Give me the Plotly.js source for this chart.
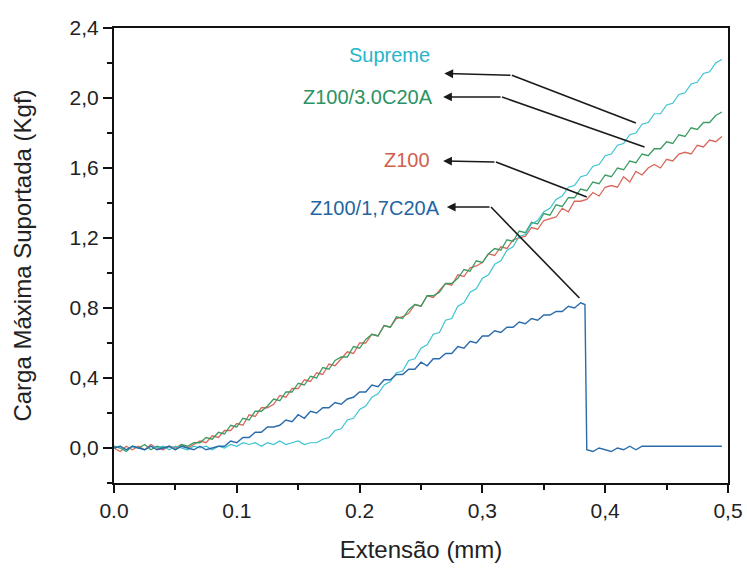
<!DOCTYPE html>
<html>
<head>
<meta charset="utf-8">
<script src="https://cdn.plot.ly/plotly-3.0.1.min.js"></script>
<style>html,body{margin:0;padding:0;background:#fff;}#chart{width:747px;height:568px;}</style>
</head>
<body>
<div id="chart"></div>
<script>
// ---- data ----
var extensao = [0,0.005,0.01,0.015,0.02,0.025,0.03,0.035,0.04,0.045,0.05,0.055,0.06,0.065,0.07,0.075,0.08,0.085,0.09,0.095,
0.1,0.105,0.11,0.115,0.12,0.125,0.13,0.135,0.14,0.145,0.15,0.155,0.16,0.165,0.17,0.175,0.18,0.185,0.19,0.195,
0.2,0.205,0.21,0.215,0.22,0.225,0.23,0.235,0.24,0.245,0.25,0.255,0.26,0.265,0.27,0.275,0.28,0.285,0.29,0.295,
0.3,0.305,0.31,0.315,0.32,0.325,0.33,0.335,0.34,0.345,0.35,0.355,0.36,0.365,0.37,0.375,0.38,0.385,0.39,0.395,
0.4,0.405,0.41,0.415,0.42,0.425,0.43,0.435,0.44,0.445,0.45,0.455,0.46,0.465,0.47,0.475,0.48,0.485,0.49,0.495];

var cargaZ100 = [0.00,-0.02,0.01,-0.01,0.01,-0.01,0.02,0.00,-0.01,0.01,0.00,0.02,0.00,
0.02,0.04,0.03,0.07,0.06,0.10,0.10,0.14,0.13,0.19,0.18,0.23,0.23,0.25,0.30,0.29,0.34,
0.34,0.39,0.38,0.43,0.42,0.48,0.47,0.51,0.55,0.54,0.60,0.60,0.65,0.64,0.70,0.69,0.74,
0.75,0.77,0.82,0.81,0.87,0.86,0.90,0.94,0.93,0.99,0.98,1.03,1.04,1.06,1.11,1.10,1.15,
1.14,1.19,1.20,1.21,1.26,1.25,1.30,1.31,1.32,1.37,1.35,1.41,1.41,1.42,1.46,1.44,1.49,
1.50,1.49,1.55,1.52,1.58,1.56,1.60,1.62,1.60,1.65,1.64,1.68,1.69,1.68,1.73,1.72,1.76,1.75,1.78];

var cargaZ100_30 = [0.01,0.00,-0.02,0.01,0.00,0.02,-0.01,0.01,0.00,0.01,-0.01,0.02,0.01,
0.03,0.03,0.06,0.05,0.09,0.08,0.13,0.12,0.17,0.16,0.21,0.21,0.24,0.28,0.27,0.32,0.32,
0.37,0.36,0.41,0.40,0.46,0.45,0.50,0.52,0.52,0.58,0.57,0.62,0.65,0.64,0.70,0.69,0.75,
0.74,0.79,0.82,0.81,0.87,0.87,0.89,0.94,0.94,0.97,1.02,1.01,1.07,1.06,1.11,1.14,1.13,
1.19,1.18,1.24,1.23,1.29,1.28,1.34,1.33,1.39,1.38,1.43,1.43,1.48,1.47,1.52,1.51,1.56,
1.55,1.60,1.59,1.64,1.63,1.68,1.67,1.71,1.71,1.75,1.74,1.79,1.78,1.83,1.82,1.86,1.86,1.90,1.92];

var cargaSupreme = [0.00,0.01,-0.01,0.01,0.00,-0.01,0.01,0.00,0.01,-0.01,0.01,0.00,-0.01,0.01,0.00,0.01,-0.01,0.01,0.00,0.02,
0.01,0.03,0.02,0.03,0.01,0.03,0.02,0.04,0.02,0.03,0.04,0.02,0.03,0.03,0.05,0.06,0.10,0.11,0.16,0.17,
0.22,0.24,0.29,0.31,0.36,0.38,0.43,0.44,0.50,0.51,0.57,0.59,0.65,0.66,0.73,0.74,0.81,0.83,0.89,0.91,
0.97,0.99,1.05,1.07,1.13,1.15,1.21,1.22,1.28,1.30,1.35,1.37,1.42,1.44,1.49,1.50,1.55,1.56,1.61,1.62,
1.67,1.68,1.73,1.74,1.79,1.80,1.85,1.86,1.91,1.91,1.96,1.97,2.02,2.03,2.08,2.09,2.14,2.15,2.20,2.22];

var extensaoZ100_17 = [0,0.005,0.01,0.015,0.02,0.025,0.03,0.035,0.04,0.045,0.05,0.055,0.06,0.065,0.07,0.075,0.08,0.085,0.09,0.095,
0.1,0.105,0.11,0.115,0.12,0.125,0.13,0.135,0.14,0.145,0.15,0.155,0.16,0.165,0.17,0.175,0.18,0.185,0.19,0.195,
0.2,0.205,0.21,0.215,0.22,0.225,0.23,0.235,0.24,0.245,0.25,0.255,0.26,0.265,0.27,0.275,0.28,0.285,0.29,0.295,
0.3,0.305,0.31,0.315,0.32,0.325,0.33,0.335,0.34,0.345,0.35,0.355,0.36,0.365,0.37,0.375,0.38,0.3835,0.385,
0.39,0.395,0.4,0.405,0.41,0.415,0.42,0.425,0.43,0.495];

var cargaZ100_17 = [0.00,0.01,-0.01,0.01,0.00,-0.01,0.01,-0.01,0.00,0.01,-0.01,0.01,0.00,-0.01,0.01,-0.01,0.00,0.01,
0.01,0.04,0.03,0.06,0.06,0.09,0.09,0.12,0.12,0.13,0.16,0.15,0.19,0.17,0.21,0.20,0.23,0.23,0.26,0.25,0.28,0.29,
0.32,0.32,0.36,0.35,0.39,0.39,0.42,0.42,0.45,0.45,0.49,0.47,0.51,0.51,0.54,0.54,0.58,0.57,0.61,0.60,
0.64,0.64,0.67,0.66,0.69,0.69,0.72,0.71,0.74,0.73,0.76,0.76,0.78,0.78,0.81,0.80,0.83,0.82,-0.01,
-0.02,0.00,-0.01,-0.02,0.00,-0.01,0.01,-0.01,0.01,0.01];

var seriesNames = ['Supreme', 'Z100/3.0C20A', 'Z100', 'Z100/1,7C20A'];

var xTickVals = [0, 0.1, 0.2, 0.3, 0.4, 0.5];
var xTickText = ['0.0', '0.1', '0.2', '0,3', '0,4', '0,5'];
var xMinorVals = [0.05, 0.15, 0.25, 0.35, 0.45];
var yTickVals = [0, 0.4, 0.8, 1.2, 1.6, 2.0, 2.4];
var yTickText = ['0,0', '0,4', '0,8', '1,2', '1,6', '2,0', '2,4'];
var yMinorVals = [-0.2, 0.2, 0.6, 1.0, 1.4, 1.8, 2.2];

// ---- styles ----
var colCyan = '#3cc3d2', colGreen = '#3a9c62', colRed = '#d9675c', colBlue = '#2a6cab';
var lblCyan = '#27b5c8', lblGreen = '#2a9263', lblRed = '#d0604e', lblBlue = '#1f66a3';
var FONT = '"Liberation Sans", Arial, Helvetica, sans-serif';

var traces = [
  {x: extensao, y: cargaZ100, name: seriesNames[2], mode: 'lines', line: {color: colRed, width: 1.3}},
  {x: extensao, y: cargaZ100_30, name: seriesNames[1], mode: 'lines', line: {color: colGreen, width: 1.3}},
  {x: extensao, y: cargaSupreme, name: seriesNames[0], mode: 'lines', line: {color: colCyan, width: 1.2}},
  {x: extensaoZ100_17, y: cargaZ100_17, name: seriesNames[3], mode: 'lines', line: {color: colBlue, width: 1.4}}
];

// label / leader-line layout (positions in data coordinates)
var labels = [
  {text: seriesNames[0], color: lblCyan, tx: 0.2593, ty: 2.245, head: [0.269, 2.14], bend: [0.324, 2.13], end: [0.425, 1.857]},
  {text: seriesNames[1], color: lblGreen, tx: 0.2610, ty: 2.006, head: [0.268, 2.006], bend: [0.316, 2.006], end: [0.432, 1.72]},
  {text: seriesNames[2], color: lblRed, tx: 0.2593, ty: 1.646, head: [0.268, 1.64], bend: [0.311, 1.634], end: [0.385, 1.434]},
  {text: seriesNames[3], color: lblBlue, tx: 0.2667, ty: 1.371, head: [0.271, 1.377], bend: [0.307, 1.377], end: [0.379, 0.857]}
];

var annotations = [], shapes = [];
labels.forEach(function (l) {
  annotations.push({x: l.tx, y: l.ty, xref: 'x', yref: 'y', text: l.text, showarrow: false,
    xanchor: 'right', yanchor: 'middle', font: {family: FONT, size: 20, color: l.color}});
  annotations.push({x: l.head[0], y: l.head[1], ax: l.bend[0], ay: l.bend[1], xref: 'x', yref: 'y',
    axref: 'x', ayref: 'y', text: '', showarrow: true, arrowhead: 2, arrowsize: 1.1, arrowwidth: 1.6,
    arrowcolor: '#1a1a1a', standoff: 0, startstandoff: 0});
  shapes.push({type: 'line', xref: 'x', yref: 'y', x0: l.bend[0], y0: l.bend[1], x1: l.end[0], y1: l.end[1],
    line: {color: '#1a1a1a', width: 1.6}});
});

var layout = {
  width: 747, height: 568,
  margin: {l: 114, r: 19, t: 28, b: 85},
  paper_bgcolor: '#fff', plot_bgcolor: '#fff',
  showlegend: false,
  font: {family: FONT, color: '#222'},
  xaxis: {
    range: [0, 0.5], tickmode: 'array', tickvals: xTickVals, ticktext: xTickText,
    ticks: 'outside', ticklen: 8, tickwidth: 2, tickcolor: '#111',
    showline: true, linewidth: 2, linecolor: '#111', mirror: true,
    showgrid: false, zeroline: false,
    minor: {tickmode: 'array', tickvals: xMinorVals, ticks: 'outside', ticklen: 5, tickwidth: 2, tickcolor: '#111', showgrid: false},
    tickfont: {family: FONT, size: 21, color: '#222'},
    title: {text: 'Extensão (mm)', font: {family: FONT, size: 24, color: '#222'}, standoff: 20}
  },
  yaxis: {
    range: [-0.2, 2.4], tickmode: 'array', tickvals: yTickVals, ticktext: yTickText,
    ticks: 'outside', ticklen: 9, tickwidth: 2, tickcolor: '#111',
    showline: true, linewidth: 2, linecolor: '#111', mirror: true,
    showgrid: false, zeroline: false,
    minor: {tickmode: 'array', tickvals: yMinorVals, ticks: 'outside', ticklen: 5, tickwidth: 2, tickcolor: '#111', showgrid: false},
    tickfont: {family: FONT, size: 21, color: '#222'},
    title: {text: 'Carga Máxima Suportada (Kgf)', font: {family: FONT, size: 24, color: '#222'}, standoff: 31}
  },
  annotations: annotations,
  shapes: shapes
};

Plotly.newPlot('chart', traces, layout, {staticPlot: true, displayModeBar: false});
</script>
</body>
</html>
